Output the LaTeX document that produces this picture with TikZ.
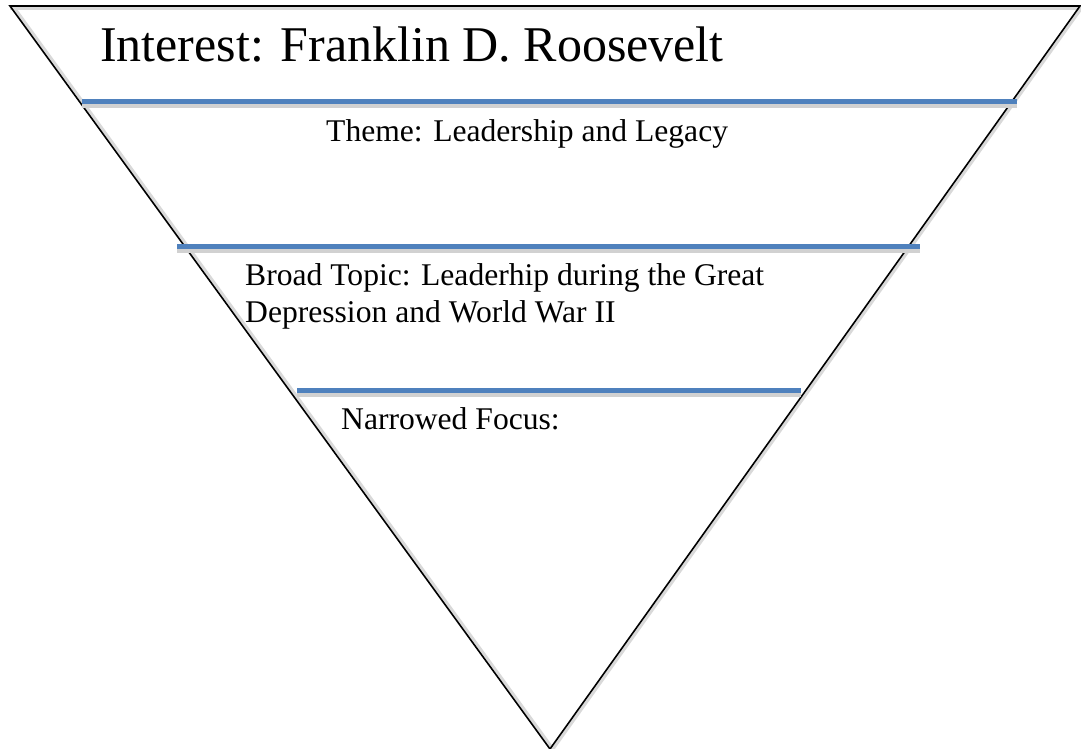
\documentclass[tikz,border=0pt]{standalone}
\usepackage{fontspec}
\setmainfont{Liberation Serif}
\definecolor{lineblue}{HTML}{4F81BD}
\begin{document}
\begin{tikzpicture}[x=1pt,y=-1pt,
  tri/.style={draw=black,line width=1.6pt,line join=miter},
  triShadow/.style={draw=black!15,line width=3pt},
  level/.style={draw=lineblue,line width=5pt},
  levelShadow/.style={draw=black!18,line width=5pt},
  big/.style={inner sep=0pt,anchor=base west,font=\fontsize{50}{60}\selectfont},
  small/.style={inner sep=0pt,anchor=base west,font=\fontsize{31.6}{37}\selectfont}]
\useasboundingbox (0,0) rectangle (1081,749);
\fill[white] (0,0) rectangle (1081,749);
% triangle corners
\coordinate (tl) at (10,6);
\coordinate (tr) at (1080,6);
\coordinate (bt) at (550,749);
% soft shadow of triangle
\draw[triShadow] ([yshift=-3pt]tl) -- ([yshift=-3pt]tr);
\draw[triShadow] ([xshift=3pt]tr) -- ([xshift=3pt]bt);
\draw[triShadow] ([xshift=3pt]tl) -- ([xshift=3pt]bt);
\draw[tri] (tl) -- (tr) -- (bt) -- cycle;
% level lines
\coordinate (l1a) at (82,102);  \coordinate (l1b) at (1017,102);
\coordinate (l2a) at (177,246); \coordinate (l2b) at (920,246);
\coordinate (l3a) at (297,390); \coordinate (l3b) at (801,390);
\foreach \a/\b in {l1a/l1b,l2a/l2b,l3a/l3b}{
  \draw[levelShadow] ([yshift=-4pt]\a) -- ([yshift=-4pt]\b);
  \draw[level] (\a) -- (\b);
}
% texts
\node[big] (interest) at (100,62) {Interest: Franklin D. Roosevelt};
\node[small] (theme) at (326,142) {Theme: Leadership and Legacy};
\node[small] (broad1) at (245,285) {Broad Topic: Leaderhip during the Great};
\node[small] (broad2) at (245,322) {Depression and World War II};
\node[small] (focus) at (341,429) {Narrowed Focus:};
\end{tikzpicture}
\end{document}
